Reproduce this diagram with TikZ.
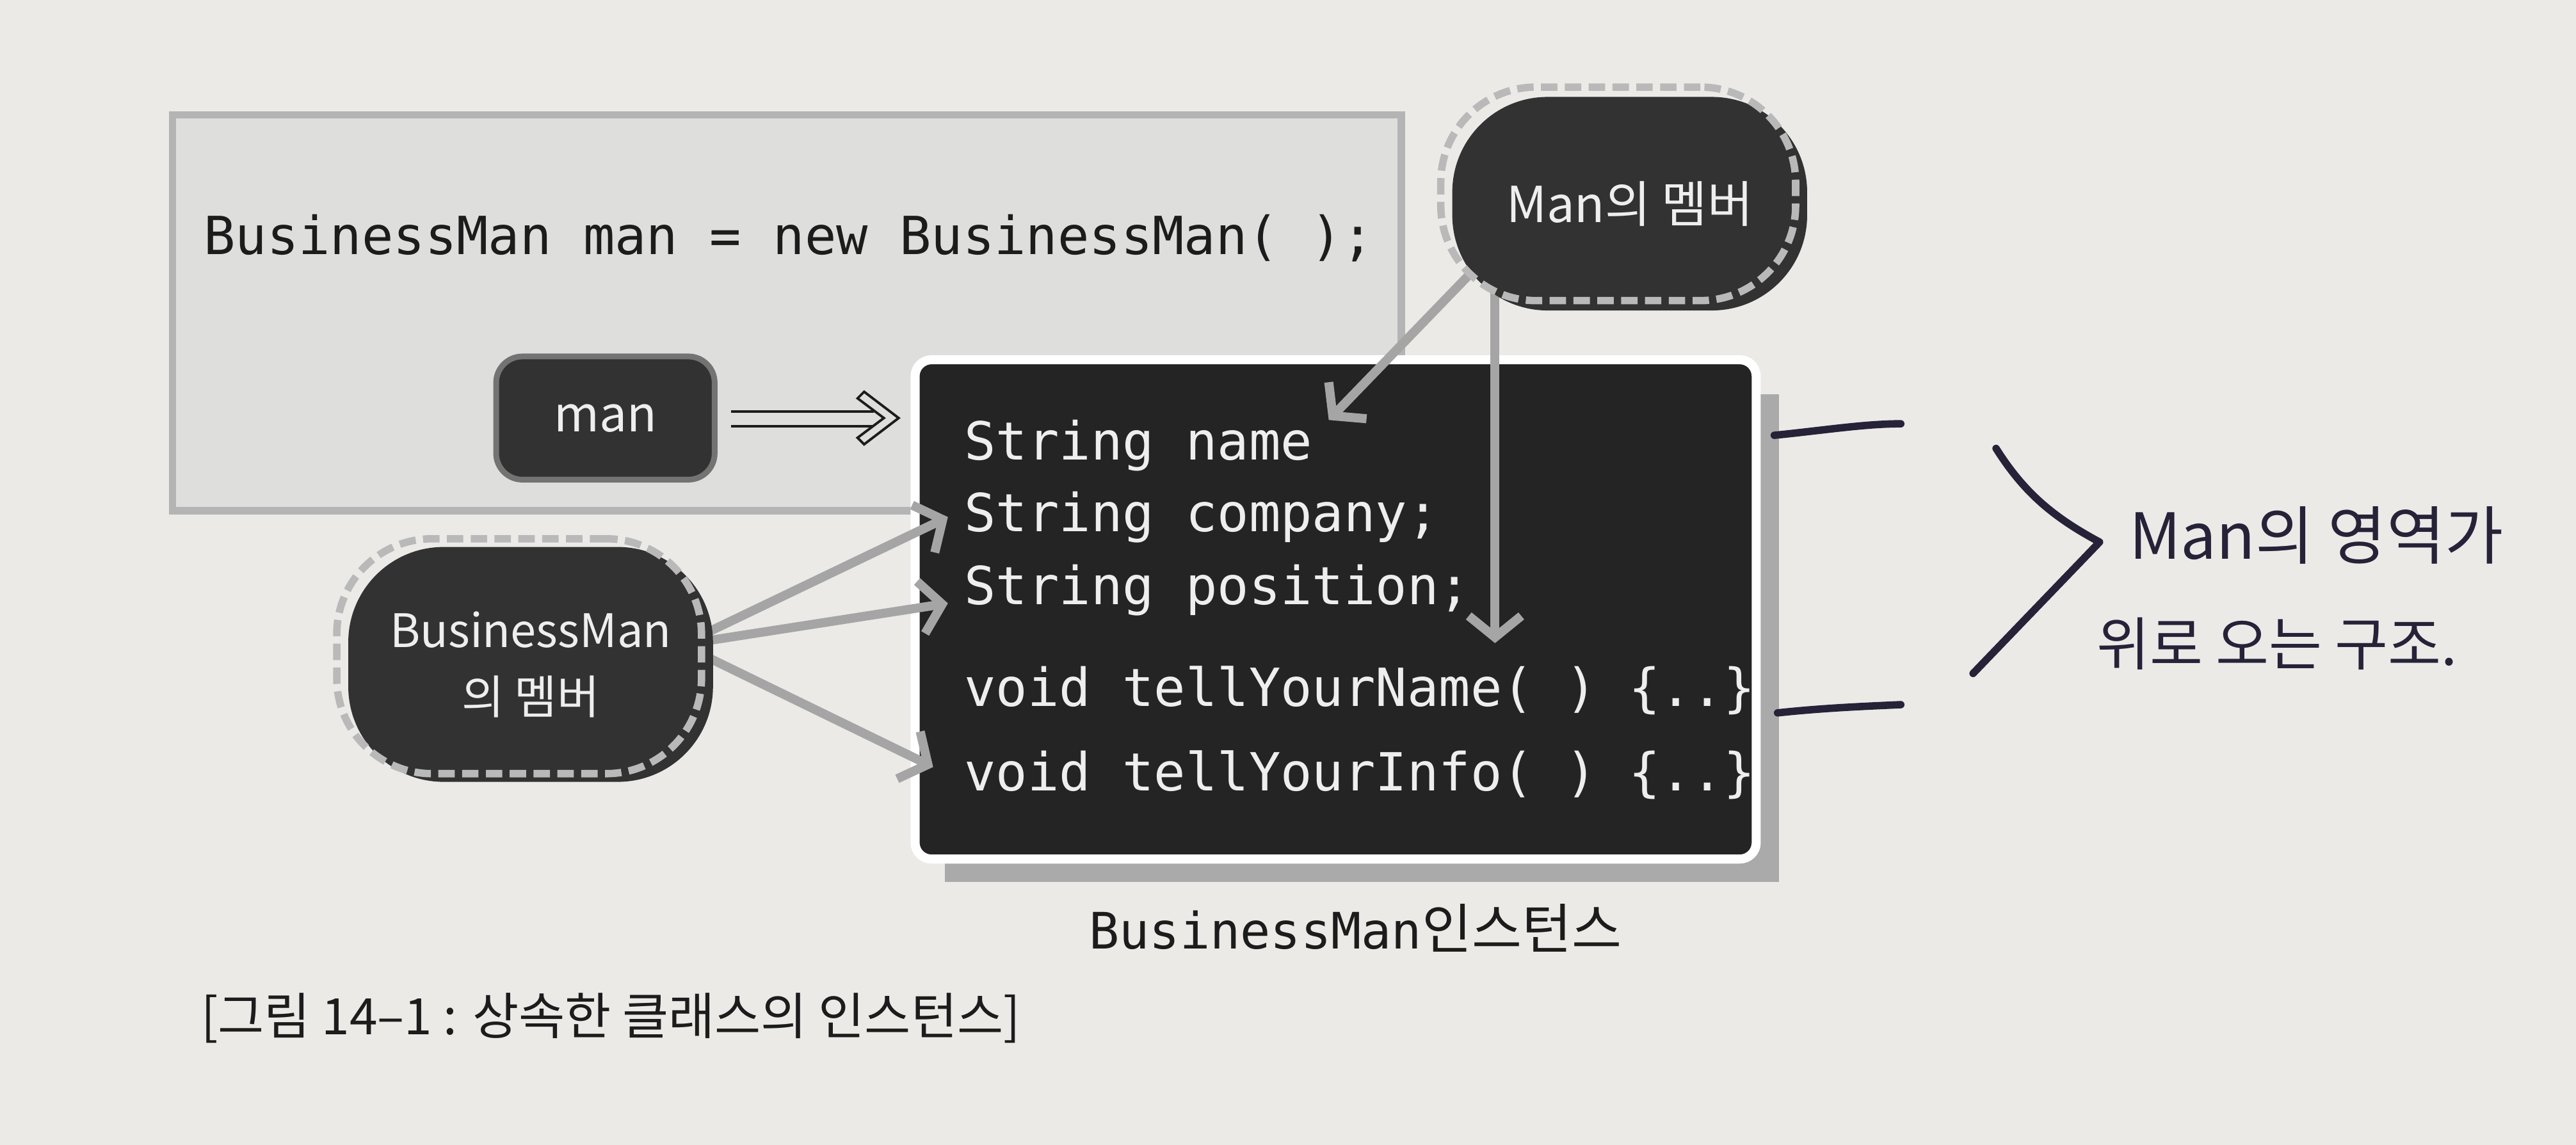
\documentclass[tikz,border=0pt]{standalone}
\usepackage{fontspec}
\setmainfont{Noto Sans CJK KR}
\newfontfamily\codefont{DejaVu Sans Mono}
\usetikzlibrary{arrows.meta,calc}
\definecolor{pagebg}{RGB}{235,234,231}
\definecolor{codefill}{RGB}{222,222,221}
\definecolor{codeline}{RGB}{180,180,180}
\definecolor{darkfill}{RGB}{50,50,50}
\definecolor{instfill}{RGB}{36,36,36}
\definecolor{shadowc}{RGB}{170,170,170}
\definecolor{arrgray}{RGB}{165,165,165}
\definecolor{dashc}{RGB}{185,185,185}
\definecolor{varline}{RGB}{115,115,115}
\definecolor{textdark}{RGB}{28,28,28}
\definecolor{codewhite}{RGB}{238,238,238}
\definecolor{inkc}{RGB}{38,34,56}
\pgfdeclarelayer{back}
\pgfdeclarelayer{front}
\pgfsetlayers{back,main,front}
\begin{document}
\begin{tikzpicture}[x=0.1mm,y=-0.1mm,line cap=butt,
	codebox/.style={draw=codeline,fill=codefill,line width=0.45mm,inner sep=0,outer sep=0},
	instbox/.style={draw=white,fill=instfill,line width=0.55mm,rounded corners=1mm,inner sep=0,outer sep=0},
	varbox/.style={draw=varline,fill=darkfill,line width=0.35mm,rounded corners=1.6mm,inner sep=0,outer sep=0,
		minimum width=13.3mm,minimum height=7.5mm,text=codewhite,font=\fontsize{8.5pt}{10pt}\selectfont},
	code/.style={anchor=base west,inner sep=0,outer sep=0,text=textdark,font=\codefont\fontsize{9.1pt}{11pt}\selectfont},
	member/.style={code,text=codewhite},
	blob/.style={fill=darkfill,rounded corners=5.8mm,inner sep=0,outer sep=0,text=codewhite,align=center,
		font=\fontsize{8pt}{11.5pt}\selectfont},
	blobline/.style={draw=dashc,line width=0.45mm,dash pattern=on 1mm off 0.45mm,rounded corners=5.8mm,inner sep=0,outer sep=0},
	mem/.style={draw=arrgray,line width=0.55mm,-{Straight Barb[length=1.3mm,width=3.2mm]}},
	dbl/.style={draw=textdark,line width=0.15mm},
	ink/.style={draw=inkc,line width=0.45mm,line cap=round,line join=round},
	hand/.style={text=inkc,inner sep=0}]
	\useasboundingbox (0,0) rectangle (1568,697);
	\begin{pgfonlayer}{back}
		\fill[pagebg] (0,0) rectangle (1568,697);
		\node[codebox,minimum width=74.8mm,minimum height=24.1mm] (code) at (479,190.5) {};
	\end{pgfonlayer}
	% instance
	\node[instbox,minimum width=51.2mm,minimum height=30.4mm] (inst) at (813,371) {};
	\begin{pgfonlayer}{back}
		\fill[shadowc] ([shift={(18,21)}]inst.north west) rectangle ([shift={(14,14)}]inst.south east);
	\end{pgfonlayer}
	\node[code] (stmt) at (124,155) {BusinessMan man = new BusinessMan( );};
	\foreach \nm/\yy/\txt in {nm/280/String name,comp/323.5/String company;,pos/368/String position;,
		tyn/430/void tellYourName( ) \{..\},tyi/481.6/void tellYourInfo( ) \{..\}}{
		\node[member] (\nm) at (587,\yy) {\txt};}
	% reference variable
	\node[varbox] (man) at (368.5,254.5) {man};
	\draw[dbl,shorten <=1mm] ([yshift=0.41mm]man.east) -- ++(9.7mm,0);
	\draw[dbl,shorten <=1mm] ([yshift=-0.49mm]man.east) -- ++(9.7mm,0);
	\coordinate (dtip) at ([xshift=11.2mm]man.east);
	\filldraw[fill=codefill,dbl,line join=miter] ([shift={(-21,-16)}]dtip) -- (dtip) -- ([shift={(-21,16)}]dtip)
		-- ([shift={(-25,12)}]dtip) -- ([shift={(-9,0)}]dtip) -- ([shift={(-25,-12)}]dtip) -- cycle;
	\node[anchor=base,font=\fontsize{9.4pt}{11pt}\selectfont,text=textdark] (cap) at (825,577.5)
		{{\codefont\fontsize{8.7pt}{11pt}\selectfont BusinessMan}인스턴스};
	\node[anchor=base west,font=\fontsize{8.7pt}{10pt}\selectfont,text=textdark] (fig) at (110,630)
		{[그림 14–1 : 상속한 클래스의 인스턴스]};
	% members
	\begin{pgfonlayer}{front}
		\node[blob,minimum width=21.6mm,minimum height=13mm,font=\fontsize{8.6pt}{10pt}\selectfont] (mm) at (992,124) {Man의 멤버};
		\node[blobline,minimum width=21.6mm,minimum height=13mm] (mmd) at ([shift={(-7,-6)}]mm.center) {};
		\node[blob,minimum width=22.2mm,minimum height=14.3mm] (bm) at (323,404.5) {BusinessMan\\의 멤버};
		\node[blobline,minimum width=22.2mm,minimum height=14.3mm] (bmd) at ([shift={(-7,-5)}]bm.center) {};
	\end{pgfonlayer}
	\coordinate (vtip) at ([shift={(323,-14)}]tyn.north west);
	\draw[mem] ([shift={(-52,-4)}]mm.center) -- ([xshift=1mm]nm.north east);
	\draw[mem] (vtip |- mm.center) -- (vtip);
	\draw[mem] ([shift={(92,-12)}]bm.center) -- ([xshift=-1mm]comp.west);
	\draw[mem] ([shift={(92,-12)}]bm.center) -- ([shift={(-10,8)}]pos.west);
	\draw[mem] ([shift={(92,-12)}]bm.center) -- ([shift={(-19,-5)}]tyi.west);
	% pen notes
	\draw[ink] (1080,265) .. controls (1110,262) and (1135,258) .. (1157,258);
	\draw[ink] (1082,434) .. controls (1110,431) and (1135,430) .. (1157,429);
	\draw[ink] (1215,273) .. controls (1232,300) and (1250,315) .. (1278,330) -- (1201,410);
	\node[hand,font=\fontsize{11pt}{13pt}\selectfont] (note1) at (1410,326) {Man의 영역가};
	\node[hand,font=\fontsize{10pt}{12pt}\selectfont] (note2) at (1386,392) {위로 오는 구조.};
\end{tikzpicture}
\end{document}
